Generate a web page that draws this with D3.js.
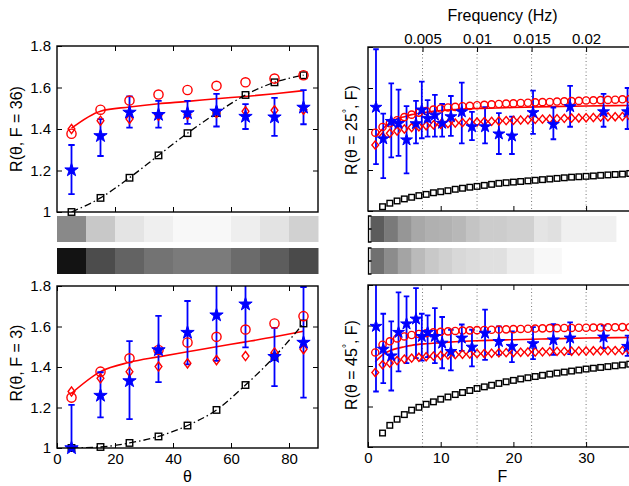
<!DOCTYPE html>
<html>
<head>
<meta charset="utf-8">
<script src="https://cdn.jsdelivr.net/npm/d3@7"></script>
<style>
body { margin: 0; background: #fff; }
text { font-family: "Liberation Sans", Arial, sans-serif; fill: #000; }
</style>
</head>
<body>
<script>
// ---- data: left panels (R vs theta) ----
const thetaVals = [5, 15, 25, 35, 45, 55, 65, 75, 85];

// F = 36
const circ36 = [1.377, 1.493, 1.537, 1.566, 1.588, 1.608, 1.625, 1.643, 1.659];
const diam36 = [1.400, 1.440, 1.448, 1.464, 1.469, 1.477, 1.485, 1.490, 1.493];
const star36 = [1.202, 1.367, 1.480, 1.469, 1.477, 1.485, 1.460, 1.457, 1.504];
const star36Lo = [1.086, 1.270, 1.407, 1.407, 1.425, 1.412, 1.400, 1.367, 1.423];
const star36Hi = [1.323, 1.448, 1.557, 1.536, 1.536, 1.569, 1.520, 1.550, 1.587];
const sq36 = [1.000, 1.068, 1.165, 1.273, 1.380, 1.477, 1.564, 1.625, 1.659];
const fit36 = [1.404, 1.486, 1.506, 1.522, 1.533, 1.546, 1.557, 1.570, 1.585];

// F = 3
const circ3 = [1.249, 1.377, 1.443, 1.484, 1.521, 1.549, 1.585, 1.615, 1.651];
const diam3 = [1.279, 1.344, 1.377, 1.402, 1.418, 1.434, 1.454, 1.472, 1.488];
const star3 = [1.000, 1.259, 1.331, 1.484, 1.570, 1.656, 1.710, 1.451, 1.521];
const star3Lo = [0.800, 1.151, 1.143, 1.325, 1.413, 1.430, 1.497, 1.306, 1.249];
const star3Hi = [1.213, 1.374, 1.528, 1.652, 1.726, 1.880, 1.900, 1.593, 1.795];
const sq3 = [1.000, 1.005, 1.025, 1.057, 1.111, 1.188, 1.311, 1.451, 1.615];
const fit3 = [1.270, 1.377, 1.423, 1.450, 1.475, 1.500, 1.524, 1.549, 1.577];

// grey strips under the left panels (one cell per 10 degrees)
const thetaBins = [0, 10, 20, 30, 40, 50, 60, 70, 80];
const stripL1 = [137, 200, 228, 239, 248, 248, 238, 227, 209];
const stripL2 = [19, 76, 99, 115, 123, 123, 107, 93, 74];

// ---- data: right panels (R vs F) ----
const fVals = [1, 2, 3, 4, 5, 6, 7, 8, 9, 10, 11, 12, 13, 14, 15, 16, 17, 18,
  19, 20, 21, 22, 23, 24, 25, 26, 27, 28, 29, 30, 31, 32, 33, 34, 35, 36];
const fSq = fVals.slice(1);

// theta = 25
const circ25 = [1.382, 1.410, 1.428, 1.443, 1.458, 1.470, 1.480, 1.488, 1.495, 1.500,
  1.505, 1.508, 1.511, 1.513, 1.516, 1.518, 1.520, 1.522, 1.524, 1.525, 1.527, 1.528,
  1.530, 1.531, 1.532, 1.534, 1.535, 1.536, 1.537, 1.539, 1.540, 1.541, 1.542, 1.543,
  1.545, 1.546];
const diam25 = [1.322, 1.363, 1.379, 1.390, 1.400, 1.407, 1.411, 1.416, 1.420, 1.423,
  1.426, 1.429, 1.431, 1.433, 1.434, 1.436, 1.437, 1.439, 1.441, 1.442, 1.444, 1.445,
  1.447, 1.448, 1.449, 1.450, 1.452, 1.453, 1.454, 1.455, 1.456, 1.458, 1.459, 1.460,
  1.461, 1.462];
const sq25 = [1.021, 1.038, 1.049, 1.059, 1.067, 1.075, 1.081, 1.089, 1.094, 1.099,
  1.106, 1.111, 1.116, 1.120, 1.125, 1.130, 1.135, 1.138, 1.141, 1.144, 1.147, 1.150,
  1.153, 1.156, 1.159, 1.162, 1.165, 1.167, 1.169, 1.171, 1.174, 1.176, 1.178, 1.180,
  1.183];
const fitF = [1, 2, 3, 4, 5, 6, 8, 10, 12, 15, 20, 25, 30, 36];
const fit25 = [1.360, 1.400, 1.430, 1.450, 1.460, 1.470, 1.482, 1.490, 1.495, 1.500,
  1.505, 1.509, 1.512, 1.515];

const starF = [1.1, 2.1, 3.2, 4.2, 5.3, 6.6, 7.4, 8.2, 9.2, 10.2, 11.4, 12.9, 14.3,
  16.1, 18.0, 19.8, 22.7, 25.5, 27.8, 32.4, 35.7];
const star25 = [1.506, 1.352, 1.437, 1.427, 1.347, 1.426, 1.493, 1.452, 1.468, 1.428,
  1.460, 1.484, 1.411, 1.411, 1.376, 1.366, 1.480, 1.423, 1.509, 1.484, 1.484];
const star25Lo = [1.229, 1.160, 1.262, 1.269, 1.184, 1.330, 1.355, 1.363, 1.363, 1.363,
  1.366, 1.330, 1.346, 1.330, 1.278, 1.278, 1.376, 1.350, 1.411, 1.411, 1.400];
const star25Hi = [1.789, 1.475, 1.623, 1.592, 1.512, 1.537, 1.631, 1.541, 1.566, 1.522,
  1.561, 1.626, 1.484, 1.506, 1.477, 1.460, 1.587, 1.505, 1.610, 1.571, 1.600];

// theta = 45
const circ45 = [1.467, 1.505, 1.522, 1.536, 1.546, 1.553, 1.558, 1.562, 1.566, 1.569,
  1.571, 1.573, 1.575, 1.576, 1.577, 1.578, 1.579, 1.580, 1.581, 1.582, 1.583, 1.584,
  1.585, 1.586, 1.587, 1.587, 1.588, 1.588, 1.589, 1.589, 1.590, 1.590, 1.591, 1.591,
  1.592, 1.592];
const diam45 = [1.368, 1.406, 1.414, 1.427, 1.434, 1.439, 1.443, 1.446, 1.449, 1.452,
  1.454, 1.456, 1.458, 1.459, 1.461, 1.462, 1.463, 1.465, 1.466, 1.467, 1.468, 1.469,
  1.469, 1.470, 1.471, 1.472, 1.472, 1.473, 1.474, 1.474, 1.475, 1.475, 1.476, 1.476,
  1.477, 1.477];
const sq45 = [1.069, 1.107, 1.137, 1.160, 1.182, 1.196, 1.211, 1.223, 1.236, 1.247,
  1.259, 1.269, 1.279, 1.289, 1.297, 1.305, 1.314, 1.322, 1.329, 1.336, 1.342, 1.348,
  1.354, 1.360, 1.365, 1.370, 1.375, 1.380, 1.385, 1.389, 1.393, 1.397, 1.401, 1.405,
  1.409];
const fit45 = [1.420, 1.455, 1.475, 1.487, 1.495, 1.502, 1.510, 1.515, 1.520, 1.525,
  1.530, 1.534, 1.538, 1.541];
const star45 = [1.596, 1.483, 1.450, 1.566, 1.608, 1.632, 1.546, 1.566, 1.546, 1.513,
  1.472, 1.538, 1.493, 1.562, 1.521, 1.497, 1.510, 1.529, 1.538, 1.543, 1.497];
const star45Lo = [1.274, 1.315, 1.279, 1.373, 1.414, 1.439, 1.427, 1.444, 1.414, 1.389,
  1.378, 1.475, 1.398, 1.430, 1.455, 1.419, 1.434, 1.455, 1.459, 1.488, 1.450];
const star45Hi = [1.820, 1.658, 1.620, 1.764, 1.744, 1.785, 1.658, 1.650, 1.686, 1.642,
  1.579, 1.605, 1.579, 1.678, 1.596, 1.571, 1.592, 1.607, 1.615, 1.599, 1.550];

// frequency axis (Hz) on top of the right column
const hzTicks = [0.005, 0.01, 0.015, 0.02];
const hzPerF = 1 / 1500;

// grey strips under the right panels (bands of 0.00125 Hz)
const bandStartHz = 0.00023, bandHz = 0.00125;
const stripR1 = [92, 122, 150, 168, 176, 178, 184, 196, 204, 204, 208, 208, 228, 224,
  240, 240, 240, 240];
const stripR2 = [112, 140, 164, 186, 200, 208, 216, 220, 224, 224, 236, 236, 248, 248];

// ---- drawing ----
const width = 629, height = 486;
const svg = d3.select("body").append("svg")
    .attr("width", width)
    .attr("height", height);

const xTheta = d3.scaleLinear().domain([0, 90]).range([57, 318]);
const yTL = d3.scaleLinear().domain([1, 1.8]).range([212, 46]);
const yBL = d3.scaleLinear().domain([1, 1.8]).range([448, 286]);
const xF = d3.scaleLinear().domain([0, 37]).range([368, 637]);
const xHz = d3.scaleLinear().domain([0, 37 * hzPerF]).range([368, 637]);
const yTR = d3.scaleLinear().domain([1, 1.8]).range([211, 47]);
const yBR = d3.scaleLinear().domain([1, 1.8]).range([447, 285]);

const red = "#ff0000", blue = "#0000ff";
const fmt = d3.format("~g");
let clipN = 0;

function styleAxis(g, labels) {
  g.select(".domain").remove();
  g.selectAll(".tick line").attr("stroke", "#000").attr("stroke-width", 1);
  if (labels) {
    g.selectAll(".tick text").attr("font-size", 15)
      .attr("font-family", "Liberation Sans, Arial, sans-serif");
  } else {
    g.selectAll(".tick text").remove();
  }
}

function panel(x, y, o) {
  const g = svg.append("g");
  const [x0, x1] = x.range(), [yb, yt] = y.range();
  const id = "clip" + (clipN++);
  svg.append("clipPath").attr("id", id).append("rect")
    .attr("x", x0).attr("y", yt).attr("width", x1 - x0).attr("height", yb - yt);

  // dotted frequency grid
  if (o.grid) {
    g.selectAll(".grid").data(hzTicks).enter().append("line")
      .attr("x1", d => xHz(d)).attr("x2", d => xHz(d))
      .attr("y1", yt).attr("y2", yb)
      .attr("stroke", "#555").attr("stroke-width", 0.8)
      .attr("stroke-dasharray", "1,2.5");
  }

  // axes (inward ticks on all sides)
  const tl = 5;
  const yl = g.append("g").attr("transform", `translate(${x0},0)`)
    .call(d3.axisLeft(y).tickValues([1, 1.2, 1.4, 1.6, 1.8]).tickSize(-tl).tickPadding(6).tickFormat(fmt));
  styleAxis(yl, o.yLabels);
  const yr = g.append("g").attr("transform", `translate(${x1},0)`)
    .call(d3.axisRight(y).tickValues([1.2, 1.4, 1.6]).tickSize(-tl));
  styleAxis(yr, false);
  const xb = g.append("g").attr("transform", `translate(0,${yb})`)
    .call(d3.axisBottom(x).tickValues(o.xTicks).tickSize(-tl).tickPadding(5).tickFormat(fmt));
  styleAxis(xb, o.xLabels);
  if (o.hzTop) {
    const xt = g.append("g").attr("transform", `translate(0,${yt})`)
      .call(d3.axisTop(xHz).tickValues(hzTicks).tickSize(-tl).tickPadding(3).tickFormat(fmt));
    styleAxis(xt, true);
  } else {
    const xt = g.append("g").attr("transform", `translate(0,${yt})`)
      .call(d3.axisTop(x).tickValues(o.xTicks).tickSize(-tl));
    styleAxis(xt, false);
  }

  const c = g.append("g").attr("clip-path", `url(#${id})`);
  const big = o.big;

  // fit line
  c.append("path")
    .attr("d", d3.line().x(d => x(d[0])).y(d => y(d[1])).curve(d3.curveMonotoneX)(d3.zip(o.fitX, o.fit)))
    .attr("fill", "none").attr("stroke", red).attr("stroke-width", 1.6);

  // squares (with dash-dot line on left panels)
  const sqPts = d3.zip(o.sqX, o.sq);
  if (o.sqLine) {
    c.append("path")
      .attr("d", d3.line().x(d => x(d[0])).y(d => y(d[1])).curve(d3.curveMonotoneX)(sqPts))
      .attr("fill", "none").attr("stroke", "#000").attr("stroke-width", 1.3)
      .attr("stroke-dasharray", "7,3,1.5,3");
  }
  const ss = big ? 6.5 : 5.6;
  g.selectAll(".sq").data(sqPts).enter().append("rect")
    .attr("x", d => x(d[0]) - ss / 2).attr("y", d => y(d[1]) - ss / 2)
    .attr("width", ss).attr("height", ss)
    .attr("fill", "none").attr("stroke", "#000").attr("stroke-width", 1.4);

  // circles
  g.selectAll(".ci").data(d3.zip(o.cx, o.circ)).enter().append("circle")
    .attr("cx", d => x(d[0])).attr("cy", d => y(d[1])).attr("r", big ? 4.6 : 3.6)
    .attr("fill", "none").attr("stroke", red).attr("stroke-width", 1.4);

  // diamonds
  const dw = big ? 3.4 : 3.4, dh = big ? 4.6 : 4.1;
  g.selectAll(".di").data(d3.zip(o.cx, o.diam)).enter().append("path")
    .attr("d", d => {
      const px = x(d[0]), py = y(d[1]);
      return `M${px},${py - dh}L${px + dw},${py}L${px},${py + dh}L${px - dw},${py}Z`;
    })
    .attr("fill", "none").attr("stroke", red).attr("stroke-width", 1.4);

  // error bars
  const cap = big ? 3.2 : 2.8;
  c.selectAll(".eb").data(d3.zip(o.starX, o.starLo, o.starHi)).enter().append("path")
    .attr("d", d => {
      const px = x(d[0]), lo = y(d[1]), hi = y(d[2]);
      return `M${px},${lo}V${hi}M${px - cap},${lo}H${px + cap}M${px - cap},${hi}H${px + cap}`;
    })
    .attr("fill", "none").attr("stroke", blue).attr("stroke-width", 1.8);

  // stars
  const star = d3.symbol().type(d3.symbolStar).size(big ? 55 : 44);
  g.selectAll(".st").data(d3.zip(o.starX, o.star)).enter().append("path")
    .attr("transform", d => `translate(${x(d[0])},${y(d[1])})`)
    .attr("d", star)
    .attr("fill", blue).attr("stroke", blue).attr("stroke-width", 1);

  // frame
  g.append("rect").attr("x", x0).attr("y", yt).attr("width", x1 - x0).attr("height", yb - yt)
    .attr("fill", "none").attr("stroke", "#000").attr("stroke-width", 1.4);
}

panel(xTheta, yTL, {
  big: true, yLabels: true, xLabels: false, xTicks: [20, 40, 60, 80], sqLine: true,
  fitX: thetaVals, fit: fit36, sqX: thetaVals, sq: sq36, cx: thetaVals, circ: circ36,
  diam: diam36, starX: thetaVals, star: star36, starLo: star36Lo, starHi: star36Hi
});
panel(xTheta, yBL, {
  big: true, yLabels: true, xLabels: true, xTicks: [0, 20, 40, 60, 80], sqLine: true,
  fitX: thetaVals, fit: fit3, sqX: thetaVals, sq: sq3, cx: thetaVals, circ: circ3,
  diam: diam3, starX: thetaVals, star: star3, starLo: star3Lo, starHi: star3Hi
});
panel(xF, yTR, {
  big: false, yLabels: false, xLabels: false, xTicks: [10, 20, 30], grid: true, hzTop: true,
  fitX: fitF, fit: fit25, sqX: fSq, sq: sq25, cx: fVals, circ: circ25,
  diam: diam25, starX: starF, star: star25, starLo: star25Lo, starHi: star25Hi
});
panel(xF, yBR, {
  big: false, yLabels: false, xLabels: true, xTicks: [0, 10, 20, 30], grid: true,
  fitX: fitF, fit: fit45, sqX: fSq, sq: sq45, cx: fVals, circ: circ45,
  diam: diam45, starX: starF, star: star45, starLo: star45Lo, starHi: star45Hi
});

// grey strips
const gray = v => d3.rgb(v, v, v);
function stripRow(vals, x0s, x1s, yTop, h) {
  svg.append("g").selectAll("rect").data(vals).enter().append("rect")
    .attr("x", (d, i) => x0s(i)).attr("y", yTop)
    .attr("width", (d, i) => x1s(i) - x0s(i) + 0.5).attr("height", h)
    .attr("fill", gray);
}
stripRow(stripL1, i => xTheta(thetaBins[i]), i => xTheta(thetaBins[i] + 10), 216, 26);
stripRow(stripL2, i => xTheta(thetaBins[i]), i => xTheta(thetaBins[i] + 10), 248, 26);
const bx0 = i => xHz(bandStartHz + i * bandHz), bx1 = i => xHz(bandStartHz + (i + 1) * bandHz);
stripRow(stripR1, bx0, bx1, 216, 26);
stripRow(stripR2, bx0, bx1, 248, 26);
[216, 248].forEach(t => {
  const xb = xF(0) + 0.5;
  svg.append("path")
    .attr("d", `M${xb + 3},${t}H${xb}V${t + 26}H${xb + 3}M${xb},${t + 13}H${xb + 3}`)
    .attr("fill", "none").attr("stroke", "#000").attr("stroke-width", 1.3);
});

// labels
function vlabel(cx, cy, parts) {
  const t = svg.append("text")
    .attr("transform", `translate(${cx},${cy}) rotate(-90)`)
    .attr("text-anchor", "middle").attr("font-size", 16);
  parts.forEach(p => {
    const s = t.append("tspan").text(p[0]);
    if (p[1]) s.attr("font-size", 10).attr("dy", -7);
    if (p[2]) s.attr("dy", 7);
  });
}
vlabel(22, 129, [["R(θ, F = 36)"]]);
vlabel(22, 363, [["R(θ, F = 3)"]]);
vlabel(357, 130, [["R(θ = 25"], ["°", true], [", F)", false, true]]);
vlabel(357, 365, [["R(θ = 45"], ["°", true], [", F)", false, true]]);

svg.append("text").attr("x", xTheta(45)).attr("y", 482).attr("text-anchor", "middle")
  .attr("font-size", 16).text("θ");
svg.append("text").attr("x", xF(18.5)).attr("y", 482).attr("text-anchor", "middle")
  .attr("font-size", 16).text("F");
svg.append("text").attr("x", xF(18.5)).attr("y", 21).attr("text-anchor", "middle")
  .attr("font-size", 16).text("Frequency (Hz)");
</script>
</body>
</html>
